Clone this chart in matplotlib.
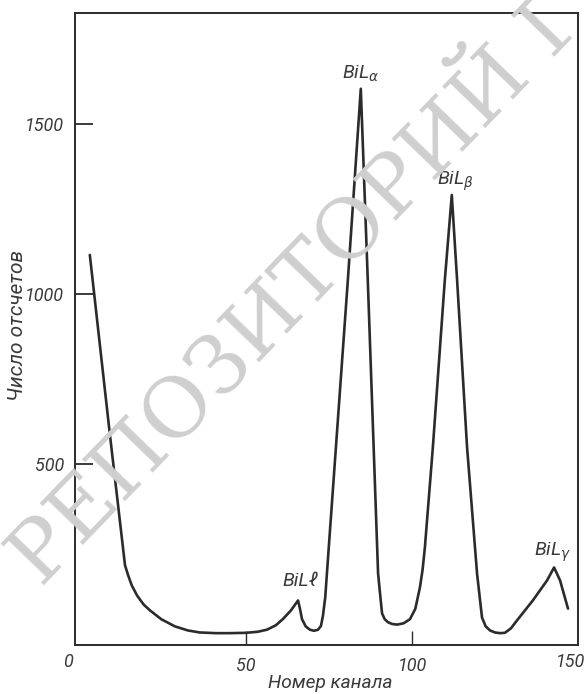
import matplotlib
matplotlib.use("Agg")
import matplotlib.pyplot as plt

# channel numbers and counts
channel = [3.0, 9.0, 13.6, 14.6, 15.6, 17.2, 19.2, 21.1, 24.5, 28.6, 32.5, 36.1, 41.0, 45.2, 50.0,
           53.5, 56.3, 59.0, 61.1, 63.5, 65.7, 66.3, 66.9, 68.0, 69.3, 70.5, 71.7, 72.6, 73.2,
           73.9, 74.4, 80.7, 84.6, 86.7, 89.8, 90.5, 91.0, 91.8, 92.8, 94.0, 95.5, 97.5, 99.4,
           101.0, 102.4, 103.2, 103.9, 106.3, 109.9, 112.0, 113.6, 116.6, 119.6, 120.4, 121.1,
           122.2, 123.5, 125.0, 126.5, 128.0, 129.8, 131.6, 136.4, 140.7, 142.8, 144.6, 147.0]
counts = [1115, 591, 203, 172, 145, 115, 88, 71, 45, 24, 12, 6, 4, 4, 5,
          8, 14, 27, 45, 70, 100, 75, 45, 24, 14, 11, 14, 25, 55,
          110, 180, 1041, 1603, 1041, 180, 110, 62, 45, 36, 31, 29, 33, 45,
          75, 138, 190, 256, 550, 1041, 1291, 1041, 550, 180, 110, 50,
          24, 12, 6, 4, 5, 18, 41, 100, 159, 197, 159, 76]

xticks = [50, 100]
yticks = [500, 1000, 1500]
peak_labels = ["BiL$_\\alpha$", "BiL$_\\beta$", "BiLℓ", "BiL$_\\gamma$"]
peak_pos = [(84.6, 1618), (113.0, 1298), (66.3, 130), (142.5, 206)]

ink = "#2b2b2b"
txt = "#3a3a3a"
tfont = ["Roboto", "DejaVu Sans"]

fig = plt.figure(figsize=(5.85, 6.94), dpi=100)
fig.patch.set_facecolor("white")

# watermark, drawn first and beneath the axes
fig.text(0.580, 0.645, "РЕПОЗИТОРИЙ ГГУ", rotation=46,
         ha="center", va="center", fontsize=60, family="DejaVu Serif",
         color="#cfcfcf", zorder=0)

ax = fig.add_axes([0.128, 0.071, 0.860, 0.910])
ax.patch.set_alpha(0)

ax.plot(channel, counts, color=ink, lw=1.9, solid_joinstyle="round", solid_capstyle="round", zorder=3)

ax.set_xlim(-1.5, 150)
ax.set_ylim(-30, 1825)
for s in ax.spines.values():
    s.set_color(ink)
    s.set_linewidth(1.4)
    s.set_zorder(3)

ax.set_xticks(xticks)
ax.set_xticklabels([str(v) for v in xticks])
ax.set_yticks(yticks)
ax.set_yticklabels([str(v) for v in yticks])
ax.tick_params(axis="x", direction="in", length=10, width=1.0, color=ink, pad=9,
               labelsize=13, labelcolor=txt)
ax.tick_params(axis="y", direction="in", length=13, width=1.3, color=ink, pad=8,
               labelsize=13, labelcolor=txt)
for lab in ax.get_xticklabels() + ax.get_yticklabels():
    lab.set_style("italic")
    lab.set_family(tfont)

ax.text(-3.5, -80, "0", ha="center", va="center", fontsize=13, style="italic", color=txt, family=tfont)
ax.text(147.8, -80, "150", ha="center", va="center", fontsize=13, style="italic", color=txt, family=tfont)

ax.set_xlabel("Номер канала", fontsize=13.8, style="italic", color=txt, family=tfont)
ax.set_ylabel("Число отсчетов", fontsize=15, style="italic", color=txt, family=tfont)
ax.yaxis.set_label_coords(-0.096, 0.506)
ax.xaxis.set_label_coords(0.507, -0.047)

for lab, (px, py) in zip(peak_labels, peak_pos):
    ax.text(px, py, lab, ha="center", va="bottom", fontsize=14, style="italic", color=txt,
            family=tfont, zorder=4)

fig.savefig("out.png", dpi=100)
